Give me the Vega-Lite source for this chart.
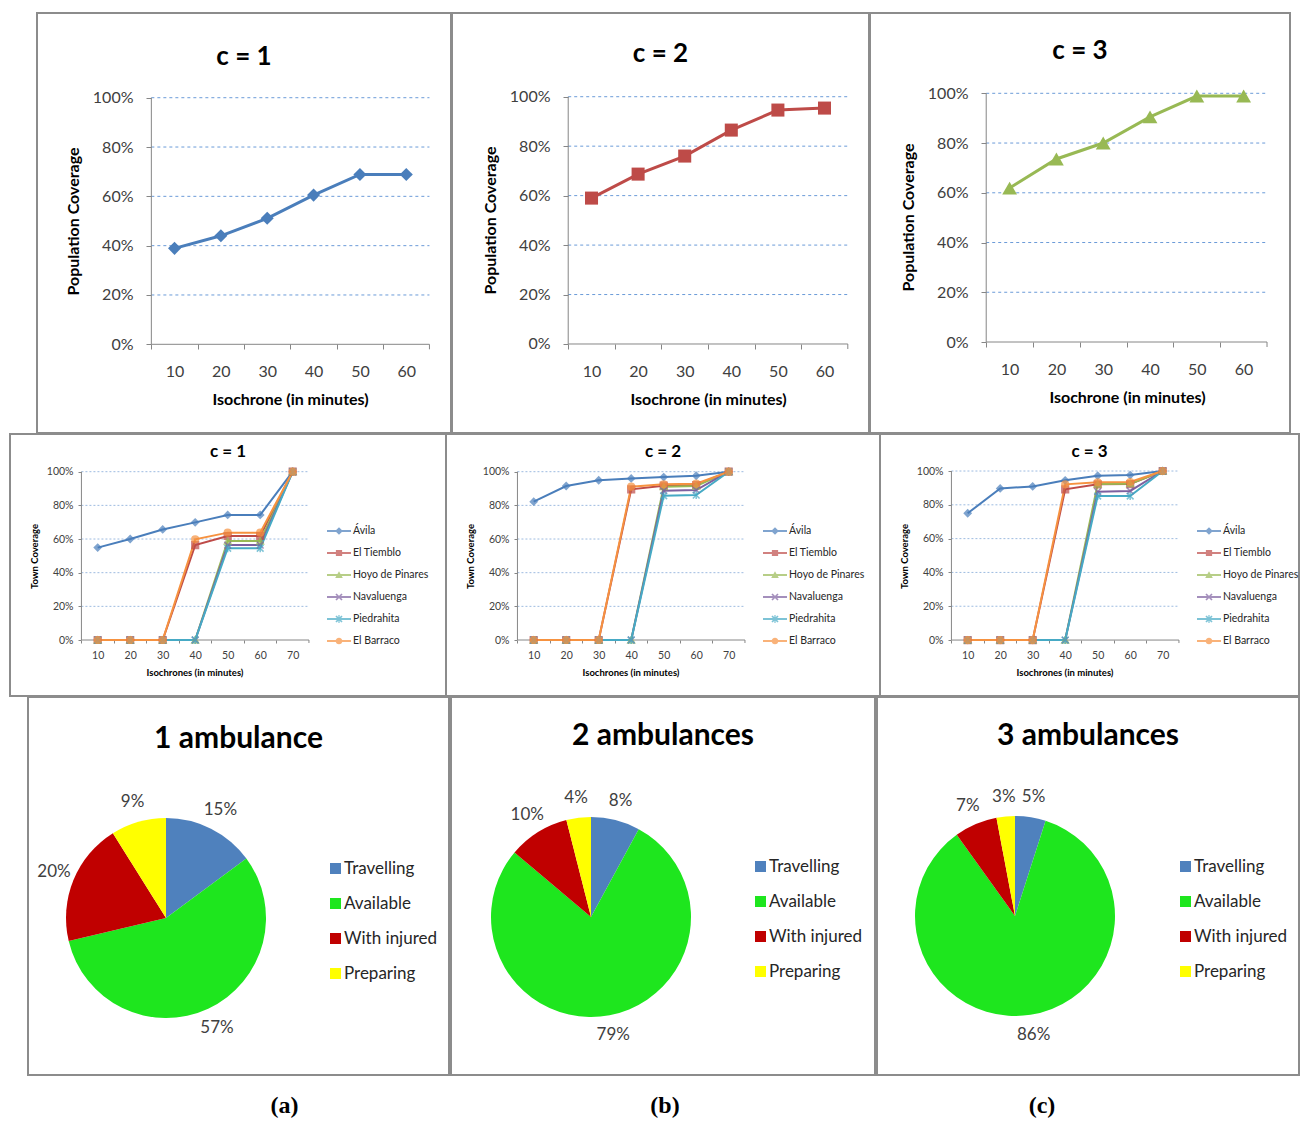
{
  "$schema": "https://vega.github.io/schema/vega-lite/v6.json",
  "padding": {"left": 9, "top": 12, "right": 0, "bottom": 0},
  "background": "white",
  "spacing": -1,
  "config": {
    "font": "Lato",
    "view": {"stroke": "#8c8c8c", "strokeWidth": 2},
    "axis": {"domain": false, "grid": false, "tickColor": "#868686", "labelColor": "#404040", "titleColor": "#000000", "titleFontWeight": "bold", "labelFont": "Lato", "titleFont": "Lato", "labelOverlap": false, "labelFlush": false},
    "legend": {"labelFont": "Lato", "labelColor": "#262626"},
    "title": {"font": "Lato", "color": "#000000", "anchor": "middle"},
    "text": {"font": "Lato"}
  },
  "resolve": {"scale": {"color": "independent", "fill": "independent", "stroke": "independent", "shape": "independent", "theta": "independent", "x": "independent", "y": "independent"}},
  "datasets": {
    "grid": [{"g": 0.2}, {"g": 0.4}, {"g": 0.6}, {"g": 0.8}, {"g": 1.0}],
    "pop": [
      {"c": 1, "iso": 10, "cov": 0.389}, {"c": 1, "iso": 20, "cov": 0.440}, {"c": 1, "iso": 30, "cov": 0.511}, {"c": 1, "iso": 40, "cov": 0.605}, {"c": 1, "iso": 50, "cov": 0.689}, {"c": 1, "iso": 60, "cov": 0.689},
      {"c": 2, "iso": 10, "cov": 0.590}, {"c": 2, "iso": 20, "cov": 0.687}, {"c": 2, "iso": 30, "cov": 0.760}, {"c": 2, "iso": 40, "cov": 0.865}, {"c": 2, "iso": 50, "cov": 0.946}, {"c": 2, "iso": 60, "cov": 0.954},
      {"c": 3, "iso": 10, "cov": 0.619}, {"c": 3, "iso": 20, "cov": 0.736}, {"c": 3, "iso": 30, "cov": 0.800}, {"c": 3, "iso": 40, "cov": 0.905}, {"c": 3, "iso": 50, "cov": 0.989}, {"c": 3, "iso": 60, "cov": 0.989}
    ],
    "town": [
      {"c": 1, "town": "Ávila", "iso": 10, "cov": 0.549}, {"c": 1, "town": "Ávila", "iso": 20, "cov": 0.600}, {"c": 1, "town": "Ávila", "iso": 30, "cov": 0.657}, {"c": 1, "town": "Ávila", "iso": 40, "cov": 0.699}, {"c": 1, "town": "Ávila", "iso": 50, "cov": 0.743}, {"c": 1, "town": "Ávila", "iso": 60, "cov": 0.743}, {"c": 1, "town": "Ávila", "iso": 70, "cov": 1.0},
      {"c": 1, "town": "El Tiemblo", "iso": 10, "cov": 0}, {"c": 1, "town": "El Tiemblo", "iso": 20, "cov": 0}, {"c": 1, "town": "El Tiemblo", "iso": 30, "cov": 0}, {"c": 1, "town": "El Tiemblo", "iso": 40, "cov": 0.564}, {"c": 1, "town": "El Tiemblo", "iso": 50, "cov": 0.618}, {"c": 1, "town": "El Tiemblo", "iso": 60, "cov": 0.618}, {"c": 1, "town": "El Tiemblo", "iso": 70, "cov": 1.0},
      {"c": 1, "town": "Hoyo de Pinares", "iso": 10, "cov": 0}, {"c": 1, "town": "Hoyo de Pinares", "iso": 20, "cov": 0}, {"c": 1, "town": "Hoyo de Pinares", "iso": 30, "cov": 0}, {"c": 1, "town": "Hoyo de Pinares", "iso": 40, "cov": 0}, {"c": 1, "town": "Hoyo de Pinares", "iso": 50, "cov": 0.588}, {"c": 1, "town": "Hoyo de Pinares", "iso": 60, "cov": 0.588}, {"c": 1, "town": "Hoyo de Pinares", "iso": 70, "cov": 1.0},
      {"c": 1, "town": "Navaluenga", "iso": 10, "cov": 0}, {"c": 1, "town": "Navaluenga", "iso": 20, "cov": 0}, {"c": 1, "town": "Navaluenga", "iso": 30, "cov": 0}, {"c": 1, "town": "Navaluenga", "iso": 40, "cov": 0}, {"c": 1, "town": "Navaluenga", "iso": 50, "cov": 0.564}, {"c": 1, "town": "Navaluenga", "iso": 60, "cov": 0.564}, {"c": 1, "town": "Navaluenga", "iso": 70, "cov": 1.0},
      {"c": 1, "town": "Piedrahita", "iso": 10, "cov": 0}, {"c": 1, "town": "Piedrahita", "iso": 20, "cov": 0}, {"c": 1, "town": "Piedrahita", "iso": 30, "cov": 0}, {"c": 1, "town": "Piedrahita", "iso": 40, "cov": 0}, {"c": 1, "town": "Piedrahita", "iso": 50, "cov": 0.545}, {"c": 1, "town": "Piedrahita", "iso": 60, "cov": 0.545}, {"c": 1, "town": "Piedrahita", "iso": 70, "cov": 1.0},
      {"c": 1, "town": "El Barraco", "iso": 10, "cov": 0}, {"c": 1, "town": "El Barraco", "iso": 20, "cov": 0}, {"c": 1, "town": "El Barraco", "iso": 30, "cov": 0}, {"c": 1, "town": "El Barraco", "iso": 40, "cov": 0.598}, {"c": 1, "town": "El Barraco", "iso": 50, "cov": 0.638}, {"c": 1, "town": "El Barraco", "iso": 60, "cov": 0.638}, {"c": 1, "town": "El Barraco", "iso": 70, "cov": 1.0},
      {"c": 2, "town": "Ávila", "iso": 10, "cov": 0.822}, {"c": 2, "town": "Ávila", "iso": 20, "cov": 0.915}, {"c": 2, "town": "Ávila", "iso": 30, "cov": 0.949}, {"c": 2, "town": "Ávila", "iso": 40, "cov": 0.960}, {"c": 2, "town": "Ávila", "iso": 50, "cov": 0.968}, {"c": 2, "town": "Ávila", "iso": 60, "cov": 0.976}, {"c": 2, "town": "Ávila", "iso": 70, "cov": 1.0},
      {"c": 2, "town": "El Tiemblo", "iso": 10, "cov": 0}, {"c": 2, "town": "El Tiemblo", "iso": 20, "cov": 0}, {"c": 2, "town": "El Tiemblo", "iso": 30, "cov": 0}, {"c": 2, "town": "El Tiemblo", "iso": 40, "cov": 0.895}, {"c": 2, "town": "El Tiemblo", "iso": 50, "cov": 0.917}, {"c": 2, "town": "El Tiemblo", "iso": 60, "cov": 0.921}, {"c": 2, "town": "El Tiemblo", "iso": 70, "cov": 1.0},
      {"c": 2, "town": "Hoyo de Pinares", "iso": 10, "cov": 0}, {"c": 2, "town": "Hoyo de Pinares", "iso": 20, "cov": 0}, {"c": 2, "town": "Hoyo de Pinares", "iso": 30, "cov": 0}, {"c": 2, "town": "Hoyo de Pinares", "iso": 40, "cov": 0}, {"c": 2, "town": "Hoyo de Pinares", "iso": 50, "cov": 0.911}, {"c": 2, "town": "Hoyo de Pinares", "iso": 60, "cov": 0.915}, {"c": 2, "town": "Hoyo de Pinares", "iso": 70, "cov": 1.0},
      {"c": 2, "town": "Navaluenga", "iso": 10, "cov": 0}, {"c": 2, "town": "Navaluenga", "iso": 20, "cov": 0}, {"c": 2, "town": "Navaluenga", "iso": 30, "cov": 0}, {"c": 2, "town": "Navaluenga", "iso": 40, "cov": 0}, {"c": 2, "town": "Navaluenga", "iso": 50, "cov": 0.887}, {"c": 2, "town": "Navaluenga", "iso": 60, "cov": 0.891}, {"c": 2, "town": "Navaluenga", "iso": 70, "cov": 1.0},
      {"c": 2, "town": "Piedrahita", "iso": 10, "cov": 0}, {"c": 2, "town": "Piedrahita", "iso": 20, "cov": 0}, {"c": 2, "town": "Piedrahita", "iso": 30, "cov": 0}, {"c": 2, "town": "Piedrahita", "iso": 40, "cov": 0}, {"c": 2, "town": "Piedrahita", "iso": 50, "cov": 0.857}, {"c": 2, "town": "Piedrahita", "iso": 60, "cov": 0.861}, {"c": 2, "town": "Piedrahita", "iso": 70, "cov": 1.0},
      {"c": 2, "town": "El Barraco", "iso": 10, "cov": 0}, {"c": 2, "town": "El Barraco", "iso": 20, "cov": 0}, {"c": 2, "town": "El Barraco", "iso": 30, "cov": 0}, {"c": 2, "town": "El Barraco", "iso": 40, "cov": 0.911}, {"c": 2, "town": "El Barraco", "iso": 50, "cov": 0.925}, {"c": 2, "town": "El Barraco", "iso": 60, "cov": 0.929}, {"c": 2, "town": "El Barraco", "iso": 70, "cov": 1.0},
      {"c": 3, "town": "Ávila", "iso": 10, "cov": 0.750}, {"c": 3, "town": "Ávila", "iso": 20, "cov": 0.897}, {"c": 3, "town": "Ávila", "iso": 30, "cov": 0.909}, {"c": 3, "town": "Ávila", "iso": 40, "cov": 0.945}, {"c": 3, "town": "Ávila", "iso": 50, "cov": 0.972}, {"c": 3, "town": "Ávila", "iso": 60, "cov": 0.976}, {"c": 3, "town": "Ávila", "iso": 70, "cov": 1.0},
      {"c": 3, "town": "El Tiemblo", "iso": 10, "cov": 0}, {"c": 3, "town": "El Tiemblo", "iso": 20, "cov": 0}, {"c": 3, "town": "El Tiemblo", "iso": 30, "cov": 0}, {"c": 3, "town": "El Tiemblo", "iso": 40, "cov": 0.892}, {"c": 3, "town": "El Tiemblo", "iso": 50, "cov": 0.921}, {"c": 3, "town": "El Tiemblo", "iso": 60, "cov": 0.923}, {"c": 3, "town": "El Tiemblo", "iso": 70, "cov": 1.0},
      {"c": 3, "town": "Hoyo de Pinares", "iso": 10, "cov": 0}, {"c": 3, "town": "Hoyo de Pinares", "iso": 20, "cov": 0}, {"c": 3, "town": "Hoyo de Pinares", "iso": 30, "cov": 0}, {"c": 3, "town": "Hoyo de Pinares", "iso": 40, "cov": 0}, {"c": 3, "town": "Hoyo de Pinares", "iso": 50, "cov": 0.923}, {"c": 3, "town": "Hoyo de Pinares", "iso": 60, "cov": 0.925}, {"c": 3, "town": "Hoyo de Pinares", "iso": 70, "cov": 1.0},
      {"c": 3, "town": "Navaluenga", "iso": 10, "cov": 0}, {"c": 3, "town": "Navaluenga", "iso": 20, "cov": 0}, {"c": 3, "town": "Navaluenga", "iso": 30, "cov": 0}, {"c": 3, "town": "Navaluenga", "iso": 40, "cov": 0}, {"c": 3, "town": "Navaluenga", "iso": 50, "cov": 0.878}, {"c": 3, "town": "Navaluenga", "iso": 60, "cov": 0.882}, {"c": 3, "town": "Navaluenga", "iso": 70, "cov": 1.0},
      {"c": 3, "town": "Piedrahita", "iso": 10, "cov": 0}, {"c": 3, "town": "Piedrahita", "iso": 20, "cov": 0}, {"c": 3, "town": "Piedrahita", "iso": 30, "cov": 0}, {"c": 3, "town": "Piedrahita", "iso": 40, "cov": 0}, {"c": 3, "town": "Piedrahita", "iso": 50, "cov": 0.852}, {"c": 3, "town": "Piedrahita", "iso": 60, "cov": 0.852}, {"c": 3, "town": "Piedrahita", "iso": 70, "cov": 1.0},
      {"c": 3, "town": "El Barraco", "iso": 10, "cov": 0}, {"c": 3, "town": "El Barraco", "iso": 20, "cov": 0}, {"c": 3, "town": "El Barraco", "iso": 30, "cov": 0}, {"c": 3, "town": "El Barraco", "iso": 40, "cov": 0.921}, {"c": 3, "town": "El Barraco", "iso": 50, "cov": 0.933}, {"c": 3, "town": "El Barraco", "iso": 60, "cov": 0.935}, {"c": 3, "town": "El Barraco", "iso": 70, "cov": 1.0}
    ],
    "pie": [
      {"amb": 1, "state": "Travelling", "k": 1, "pct": 0.15}, {"amb": 1, "state": "Available", "k": 2, "pct": 0.57}, {"amb": 1, "state": "With injured", "k": 3, "pct": 0.20}, {"amb": 1, "state": "Preparing", "k": 4, "pct": 0.09},
      {"amb": 2, "state": "Travelling", "k": 1, "pct": 0.08}, {"amb": 2, "state": "Available", "k": 2, "pct": 0.79}, {"amb": 2, "state": "With injured", "k": 3, "pct": 0.10}, {"amb": 2, "state": "Preparing", "k": 4, "pct": 0.04},
      {"amb": 3, "state": "Travelling", "k": 1, "pct": 0.05}, {"amb": 3, "state": "Available", "k": 2, "pct": 0.86}, {"amb": 3, "state": "With injured", "k": 3, "pct": 0.07}, {"amb": 3, "state": "Preparing", "k": 4, "pct": 0.03}
    ]
  },
  "vconcat": [
    {
      "spacing": 1,
      "bounds": "flush",
      "resolve": {"scale": {"color": "independent", "fill": "independent", "stroke": "independent", "shape": "independent", "theta": "independent", "x": "independent", "y": "independent"}},
      "hconcat": [
        {"width": 26, "height": 20, "view": {"stroke": null}, "data": {"values": [{}]}, "mark": {"type": "point", "opacity": 0}},
        {
          "width": 414, "height": 420,
          "title": {"text": "c = 1", "fontSize": 26, "fontWeight": "bold", "offset": -57, "frame": "group"},
          "layer": [
            {
              "data": {"name": "grid"},
              "mark": {"type": "rule", "color": "#6b9bd8", "strokeDash": [3, 3], "strokeWidth": 1},
              "encoding": {
                "x": {"datum": 5, "type": "quantitative", "scale": {"domain": [-19.67, 69.65], "nice": false, "zero": false},
                  "axis": {"values": [10, 20, 30, 40, 50, 60], "offset": -89, "title": "Isochrone (in minutes)", "titleX": 253, "tickOffset": -23.2, "labelOffset": 23.2, "tickSize": 5, "labelPadding": 14, "titlePadding": 12, "labelFontSize": 16, "titleFontSize": 16}},
                "x2": {"datum": 65},
                "y": {"field": "g", "type": "quantitative", "scale": {"domain": [-0.3597, 1.3435], "nice": false, "zero": false},
                  "axis": {"values": [0, 0.2, 0.4, 0.6, 0.8, 1], "format": ".0%", "offset": -114, "title": "Population Coverage", "titleY": 208, "tickSize": 5, "labelPadding": 13, "titlePadding": 11, "labelFontSize": 16, "titleFontSize": 16}}
              }
            },
            {"data": {"values": [{}]}, "mark": {"type": "rule", "color": "#868686", "strokeWidth": 1}, "encoding": {"x": {"datum": 5, "type": "quantitative"}, "y": {"datum": 0, "type": "quantitative"}, "y2": {"datum": 1}}},
            {"data": {"values": [{}]}, "mark": {"type": "rule", "color": "#868686", "strokeWidth": 1}, "encoding": {"x": {"datum": 5, "type": "quantitative"}, "x2": {"datum": 65}, "y": {"datum": 0, "type": "quantitative"}}},
            {"data": {"values": [{}]}, "mark": {"type": "rule", "color": "#868686", "strokeWidth": 1}, "encoding": {"x": {"datum": 65, "type": "quantitative"}, "y": {"datum": 0, "type": "quantitative"}, "y2": {"datum": -0.0203}}},
            {
              "data": {"name": "pop"},
              "transform": [{"filter": "datum.c === 1"}],
              "mark": {"type": "line", "color": "#4a7ebb", "strokeWidth": 3, "point": {"shape": "diamond", "size": 170, "filled": true, "color": "#4a7ebb"}},
              "encoding": {"x": {"field": "iso", "type": "quantitative"}, "y": {"field": "cov", "type": "quantitative"}}
            }
          ]
        },
        {
          "width": 417, "height": 420,
          "title": {"text": "c = 2", "fontSize": 26, "fontWeight": "bold", "offset": -54, "frame": "group"},
          "layer": [
            {
              "data": {"name": "grid"},
              "mark": {"type": "rule", "color": "#6b9bd8", "strokeDash": [3, 3], "strokeWidth": 1},
              "encoding": {
                "x": {"datum": 5, "type": "quantitative", "scale": {"domain": [-19.94, 69.55], "nice": false, "zero": false},
                  "axis": {"values": [10, 20, 30, 40, 50, 60], "offset": -89, "title": "Isochrone (in minutes)", "titleX": 256, "tickOffset": -23.3, "labelOffset": 23.3, "tickSize": 5, "labelPadding": 14, "titlePadding": 12, "labelFontSize": 16, "titleFontSize": 16}},
                "x2": {"datum": 65},
                "y": {"field": "g", "type": "quantitative", "scale": {"domain": [-0.3599, 1.3385], "nice": false, "zero": false},
                  "axis": {"values": [0, 0.2, 0.4, 0.6, 0.8, 1], "format": ".0%", "offset": -116, "title": "Population Coverage", "titleY": 207, "tickSize": 5, "labelPadding": 13, "titlePadding": 11, "labelFontSize": 16, "titleFontSize": 16}}
              }
            },
            {"data": {"values": [{}]}, "mark": {"type": "rule", "color": "#868686", "strokeWidth": 1}, "encoding": {"x": {"datum": 5, "type": "quantitative"}, "y": {"datum": 0, "type": "quantitative"}, "y2": {"datum": 1}}},
            {"data": {"values": [{}]}, "mark": {"type": "rule", "color": "#868686", "strokeWidth": 1}, "encoding": {"x": {"datum": 5, "type": "quantitative"}, "x2": {"datum": 65}, "y": {"datum": 0, "type": "quantitative"}}},
            {"data": {"values": [{}]}, "mark": {"type": "rule", "color": "#868686", "strokeWidth": 1}, "encoding": {"x": {"datum": 65, "type": "quantitative"}, "y": {"datum": 0, "type": "quantitative"}, "y2": {"datum": -0.0202}}},
            {
              "data": {"name": "pop"},
              "transform": [{"filter": "datum.c === 2"}],
              "mark": {"type": "line", "color": "#be4b48", "strokeWidth": 3, "point": {"shape": "square", "size": 170, "filled": true, "color": "#be4b48"}},
              "encoding": {"x": {"field": "iso", "type": "quantitative"}, "y": {"field": "cov", "type": "quantitative"}}
            }
          ]
        },
        {
          "width": 420, "height": 420,
          "title": {"text": "c = 3", "fontSize": 26, "fontWeight": "bold", "offset": -51, "frame": "group"},
          "layer": [
            {
              "data": {"name": "grid"},
              "mark": {"type": "rule", "color": "#6b9bd8", "strokeDash": [3, 3], "strokeWidth": 1},
              "encoding": {
                "x": {"datum": 5, "type": "quantitative", "scale": {"domain": [-19.83, 69.91], "nice": false, "zero": false},
                  "axis": {"values": [10, 20, 30, 40, 50, 60], "offset": -91, "title": "Isochrone (in minutes)", "titleX": 257, "tickOffset": -23.4, "labelOffset": 23.4, "tickSize": 5, "labelPadding": 14, "titlePadding": 12, "labelFontSize": 16, "titleFontSize": 16}},
                "x2": {"datum": 65},
                "y": {"field": "g", "type": "quantitative", "scale": {"domain": [-0.3659, 1.3229], "nice": false, "zero": false},
                  "axis": {"values": [0, 0.2, 0.4, 0.6, 0.8, 1], "format": ".0%", "offset": -116, "title": "Population Coverage", "titleY": 204, "tickSize": 5, "labelPadding": 13, "titlePadding": 11, "labelFontSize": 16, "titleFontSize": 16}}
              }
            },
            {"data": {"values": [{}]}, "mark": {"type": "rule", "color": "#868686", "strokeWidth": 1}, "encoding": {"x": {"datum": 5, "type": "quantitative"}, "y": {"datum": 0, "type": "quantitative"}, "y2": {"datum": 1}}},
            {"data": {"values": [{}]}, "mark": {"type": "rule", "color": "#868686", "strokeWidth": 1}, "encoding": {"x": {"datum": 5, "type": "quantitative"}, "x2": {"datum": 65}, "y": {"datum": 0, "type": "quantitative"}}},
            {"data": {"values": [{}]}, "mark": {"type": "rule", "color": "#868686", "strokeWidth": 1}, "encoding": {"x": {"datum": 65, "type": "quantitative"}, "y": {"datum": 0, "type": "quantitative"}, "y2": {"datum": -0.0201}}},
            {
              "data": {"name": "pop"},
              "transform": [{"filter": "datum.c === 3"}],
              "mark": {"type": "line", "color": "#98b954", "strokeWidth": 3, "point": {"shape": "triangle-up", "size": 220, "filled": true, "color": "#98b954"}},
              "encoding": {"x": {"field": "iso", "type": "quantitative"}, "y": {"field": "cov", "type": "quantitative"}}
            }
          ]
        }
      ]
    },
    {
      "spacing": 0,
      "bounds": "flush",
      "resolve": {"scale": {"color": "independent", "fill": "independent", "stroke": "independent", "shape": "independent", "theta": "independent", "x": "independent", "y": "independent"}},
      "hconcat": [
        {
          "width": 436, "height": 262,
          "title": {"text": "c = 1", "fontSize": 17, "fontWeight": "bold", "offset": -27, "frame": "group"},
          "resolve": {"scale": {"color": "independent", "shape": "independent", "stroke": "independent"}},
          "layer": [
            {
              "data": {"name": "grid"},
              "mark": {"type": "rule", "color": "#9dbbe0", "strokeDash": [2, 2], "strokeWidth": 1},
              "encoding": {
                "x": {"datum": 5, "type": "quantitative", "scale": {"domain": [-16.98, 117.17], "nice": false, "zero": false},
                  "axis": {"values": [10, 20, 30, 40, 50, 60, 70], "offset": -56, "title": "Isochrones (in minutes)", "titleX": 184.5, "tickOffset": -16.25, "labelOffset": 16.25, "tickSize": 3, "labelPadding": 7, "titlePadding": 7, "labelFontSize": 10.5, "titleFontSize": 9.5}},
                "x2": {"datum": 75},
                "y": {"field": "g", "type": "quantitative", "scale": {"domain": [-0.3327, 1.224], "nice": false, "zero": false},
                  "axis": {"values": [0, 0.2, 0.4, 0.6, 0.8, 1], "format": ".0%", "offset": -71, "title": "Town Coverage", "titleY": 122, "tickSize": 3, "labelPadding": 5, "titlePadding": 7, "labelFontSize": 10.5, "titleFontSize": 9.5}}
              }
            },
            {"data": {"values": [{}]}, "mark": {"type": "rule", "color": "#868686", "strokeWidth": 1}, "encoding": {"x": {"datum": 5, "type": "quantitative"}, "y": {"datum": 0, "type": "quantitative"}, "y2": {"datum": 1}}},
            {"data": {"values": [{}]}, "mark": {"type": "rule", "color": "#868686", "strokeWidth": 1}, "encoding": {"x": {"datum": 5, "type": "quantitative"}, "x2": {"datum": 75}, "y": {"datum": 0, "type": "quantitative"}}},
            {"data": {"values": [{}]}, "mark": {"type": "rule", "color": "#868686", "strokeWidth": 1}, "encoding": {"x": {"datum": 75, "type": "quantitative"}, "y": {"datum": 0, "type": "quantitative"}, "y2": {"datum": -0.0178}}},
            {
              "data": {"name": "town"},
              "transform": [{"filter": "datum.c === 1"}],
              "mark": {"type": "line", "strokeWidth": 2},
              "encoding": {
                "x": {"field": "iso", "type": "quantitative"},
                "y": {"field": "cov", "type": "quantitative"},
                "color": {"field": "town", "type": "nominal", "sort": null, "legend": null,
                  "scale": {"domain": ["Ávila", "El Tiemblo", "Hoyo de Pinares", "Navaluenga", "Piedrahita", "El Barraco"], "range": ["#4a7ebb", "#be4b48", "#98b954", "#7d60a0", "#46aac5", "#f69240"]}}
              }
            },
            {
              "data": {"name": "town"},
              "transform": [{"filter": "datum.c === 1"}],
              "mark": {"type": "point", "filled": true, "size": 45, "strokeWidth": 1.5},
              "encoding": {
                "x": {"field": "iso", "type": "quantitative"},
                "y": {"field": "cov", "type": "quantitative"},
                "color": {"field": "town", "type": "nominal", "legend": null, "scale": {"domain": ["Ávila", "El Tiemblo", "Hoyo de Pinares", "Navaluenga", "Piedrahita", "El Barraco"], "range": ["#4a7ebb", "#be4b48", "#98b954", "#7d60a0", "#46aac5", "#f69240"]}},
                "stroke": {"field": "town", "type": "nominal", "legend": null, "scale": {"domain": ["Ávila", "El Tiemblo", "Hoyo de Pinares", "Navaluenga", "Piedrahita", "El Barraco"], "range": ["#4a7ebb", "#be4b48", "#98b954", "#7d60a0", "#46aac5", "#f69240"]}},
                "shape": {"field": "town", "type": "nominal", "legend": null, "scale": {"domain": ["Ávila", "El Tiemblo", "Hoyo de Pinares", "Navaluenga", "Piedrahita", "El Barraco"], "range": ["diamond", "square", "triangle-up", "M-1,-1L1,1M-1,1L1,-1", "M-1,-1L1,1M-1,1L1,-1M0,-1.2L0,1.2", "circle"]}}
              }
            },
            {
              "data": {"name": "town"},
              "transform": [{"filter": "datum.c === 0"}],
              "mark": {"type": "point", "filled": true},
              "encoding": {
                "x": {"field": "iso", "type": "quantitative"},
                "y": {"field": "cov", "type": "quantitative"},
                "color": {"field": "town", "type": "nominal", "scale": {"domain": ["Ávila", "El Tiemblo", "Hoyo de Pinares", "Navaluenga", "Piedrahita", "El Barraco"], "range": ["#4a7ebb", "#be4b48", "#98b954", "#7d60a0", "#46aac5", "#f69240"]},
                  "legend": {"orient": "none", "legendX": 317, "legendY": 85, "title": null, "padding": 0, "symbolSize": 576, "symbolStrokeWidth": 0, "labelFontSize": 10.5, "labelOffset": 2, "rowPadding": 4}},
                "shape": {"field": "town", "type": "nominal", "scale": {"domain": ["Ávila", "El Tiemblo", "Hoyo de Pinares", "Navaluenga", "Piedrahita", "El Barraco"], "range": [
                    "M-1,-0.09L1,-0.09L1,0.09L-1,0.09ZM0,-0.32L0.32,0L0,0.32L-0.32,0Z",
                    "M-1,-0.09L1,-0.09L1,0.09L-1,0.09ZM-0.26,-0.26L0.26,-0.26L0.26,0.26L-0.26,0.26Z",
                    "M-1,-0.09L1,-0.09L1,0.09L-1,0.09ZM0,-0.32L0.32,0.26L-0.32,0.26Z",
                    "M-1,-0.09L1,-0.09L1,0.09L-1,0.09ZM-0.2,-0.3L0.3,0.2L0.2,0.3L-0.3,-0.2ZM-0.2,0.3L-0.3,0.2L0.2,-0.3L0.3,-0.2Z",
                    "M-1,-0.09L1,-0.09L1,0.09L-1,0.09ZM-0.2,-0.3L0.3,0.2L0.2,0.3L-0.3,-0.2ZM-0.2,0.3L-0.3,0.2L0.2,-0.3L0.3,-0.2ZM-0.05,-0.34L0.05,-0.34L0.05,0.34L-0.05,0.34Z",
                    "M-1,-0.09L1,-0.09L1,0.09L-1,0.09ZM0.28,0A0.28,0.28,0,1,1,-0.28,0A0.28,0.28,0,1,1,0.28,0Z"]},
                  "legend": {"orient": "none", "legendX": 317, "legendY": 85, "title": null, "padding": 0, "symbolSize": 576, "symbolStrokeWidth": 0, "labelFontSize": 10.5, "labelOffset": 2, "rowPadding": 4}}
              }
            }
          ]
        },
        {
          "width": 434, "height": 262,
          "title": {"text": "c = 2", "fontSize": 17, "fontWeight": "bold", "offset": -27, "frame": "group"},
          "resolve": {"scale": {"color": "independent", "shape": "independent", "stroke": "independent"}},
          "layer": [
            {
              "data": {"name": "grid"},
              "mark": {"type": "rule", "color": "#9dbbe0", "strokeDash": [2, 2], "strokeWidth": 1},
              "encoding": {
                "x": {"datum": 5, "type": "quantitative", "scale": {"domain": [-16.98, 116.55], "nice": false, "zero": false},
                  "axis": {"values": [10, 20, 30, 40, 50, 60, 70], "offset": -56, "title": "Isochrones (in minutes)", "titleX": 184.5, "tickOffset": -16.25, "labelOffset": 16.25, "tickSize": 3, "labelPadding": 7, "titlePadding": 7, "labelFontSize": 10.5, "titleFontSize": 9.5}},
                "x2": {"datum": 75},
                "y": {"field": "g", "type": "quantitative", "scale": {"domain": [-0.3327, 1.224], "nice": false, "zero": false},
                  "axis": {"values": [0, 0.2, 0.4, 0.6, 0.8, 1], "format": ".0%", "offset": -71, "title": "Town Coverage", "titleY": 122, "tickSize": 3, "labelPadding": 5, "titlePadding": 7, "labelFontSize": 10.5, "titleFontSize": 9.5}}
              }
            },
            {"data": {"values": [{}]}, "mark": {"type": "rule", "color": "#868686", "strokeWidth": 1}, "encoding": {"x": {"datum": 5, "type": "quantitative"}, "y": {"datum": 0, "type": "quantitative"}, "y2": {"datum": 1}}},
            {"data": {"values": [{}]}, "mark": {"type": "rule", "color": "#868686", "strokeWidth": 1}, "encoding": {"x": {"datum": 5, "type": "quantitative"}, "x2": {"datum": 75}, "y": {"datum": 0, "type": "quantitative"}}},
            {"data": {"values": [{}]}, "mark": {"type": "rule", "color": "#868686", "strokeWidth": 1}, "encoding": {"x": {"datum": 75, "type": "quantitative"}, "y": {"datum": 0, "type": "quantitative"}, "y2": {"datum": -0.0178}}},
            {
              "data": {"name": "town"},
              "transform": [{"filter": "datum.c === 2"}],
              "mark": {"type": "line", "strokeWidth": 2},
              "encoding": {
                "x": {"field": "iso", "type": "quantitative"},
                "y": {"field": "cov", "type": "quantitative"},
                "color": {"field": "town", "type": "nominal", "sort": null, "legend": null,
                  "scale": {"domain": ["Ávila", "El Tiemblo", "Hoyo de Pinares", "Navaluenga", "Piedrahita", "El Barraco"], "range": ["#4a7ebb", "#be4b48", "#98b954", "#7d60a0", "#46aac5", "#f69240"]}}
              }
            },
            {
              "data": {"name": "town"},
              "transform": [{"filter": "datum.c === 2"}],
              "mark": {"type": "point", "filled": true, "size": 45, "strokeWidth": 1.5},
              "encoding": {
                "x": {"field": "iso", "type": "quantitative"},
                "y": {"field": "cov", "type": "quantitative"},
                "color": {"field": "town", "type": "nominal", "legend": null, "scale": {"domain": ["Ávila", "El Tiemblo", "Hoyo de Pinares", "Navaluenga", "Piedrahita", "El Barraco"], "range": ["#4a7ebb", "#be4b48", "#98b954", "#7d60a0", "#46aac5", "#f69240"]}},
                "stroke": {"field": "town", "type": "nominal", "legend": null, "scale": {"domain": ["Ávila", "El Tiemblo", "Hoyo de Pinares", "Navaluenga", "Piedrahita", "El Barraco"], "range": ["#4a7ebb", "#be4b48", "#98b954", "#7d60a0", "#46aac5", "#f69240"]}},
                "shape": {"field": "town", "type": "nominal", "legend": null, "scale": {"domain": ["Ávila", "El Tiemblo", "Hoyo de Pinares", "Navaluenga", "Piedrahita", "El Barraco"], "range": ["diamond", "square", "triangle-up", "M-1,-1L1,1M-1,1L1,-1", "M-1,-1L1,1M-1,1L1,-1M0,-1.2L0,1.2", "circle"]}}
              }
            },
            {
              "data": {"name": "town"},
              "transform": [{"filter": "datum.c === 0"}],
              "mark": {"type": "point", "filled": true},
              "encoding": {
                "x": {"field": "iso", "type": "quantitative"},
                "y": {"field": "cov", "type": "quantitative"},
                "color": {"field": "town", "type": "nominal", "scale": {"domain": ["Ávila", "El Tiemblo", "Hoyo de Pinares", "Navaluenga", "Piedrahita", "El Barraco"], "range": ["#4a7ebb", "#be4b48", "#98b954", "#7d60a0", "#46aac5", "#f69240"]},
                  "legend": {"orient": "none", "legendX": 317, "legendY": 85, "title": null, "padding": 0, "symbolSize": 576, "symbolStrokeWidth": 0, "labelFontSize": 10.5, "labelOffset": 2, "rowPadding": 4}},
                "shape": {"field": "town", "type": "nominal", "scale": {"domain": ["Ávila", "El Tiemblo", "Hoyo de Pinares", "Navaluenga", "Piedrahita", "El Barraco"], "range": [
                    "M-1,-0.09L1,-0.09L1,0.09L-1,0.09ZM0,-0.32L0.32,0L0,0.32L-0.32,0Z",
                    "M-1,-0.09L1,-0.09L1,0.09L-1,0.09ZM-0.26,-0.26L0.26,-0.26L0.26,0.26L-0.26,0.26Z",
                    "M-1,-0.09L1,-0.09L1,0.09L-1,0.09ZM0,-0.32L0.32,0.26L-0.32,0.26Z",
                    "M-1,-0.09L1,-0.09L1,0.09L-1,0.09ZM-0.2,-0.3L0.3,0.2L0.2,0.3L-0.3,-0.2ZM-0.2,0.3L-0.3,0.2L0.2,-0.3L0.3,-0.2Z",
                    "M-1,-0.09L1,-0.09L1,0.09L-1,0.09ZM-0.2,-0.3L0.3,0.2L0.2,0.3L-0.3,-0.2ZM-0.2,0.3L-0.3,0.2L0.2,-0.3L0.3,-0.2ZM-0.05,-0.34L0.05,-0.34L0.05,0.34L-0.05,0.34Z",
                    "M-1,-0.09L1,-0.09L1,0.09L-1,0.09ZM0.28,0A0.28,0.28,0,1,1,-0.28,0A0.28,0.28,0,1,1,0.28,0Z"]},
                  "legend": {"orient": "none", "legendX": 317, "legendY": 85, "title": null, "padding": 0, "symbolSize": 576, "symbolStrokeWidth": 0, "labelFontSize": 10.5, "labelOffset": 2, "rowPadding": 4}}
              }
            }
          ]
        },
        {
          "width": 419, "height": 262,
          "title": {"text": "c = 3", "fontSize": 17, "fontWeight": "bold", "offset": -27, "frame": "group"},
          "resolve": {"scale": {"color": "independent", "shape": "independent", "stroke": "independent"}},
          "layer": [
            {
              "data": {"name": "grid"},
              "mark": {"type": "rule", "color": "#9dbbe0", "strokeDash": [2, 2], "strokeWidth": 1},
              "encoding": {
                "x": {"datum": 5, "type": "quantitative", "scale": {"domain": [-16.98, 111.94], "nice": false, "zero": false},
                  "axis": {"values": [10, 20, 30, 40, 50, 60, 70], "offset": -56, "title": "Isochrones (in minutes)", "titleX": 184.5, "tickOffset": -16.25, "labelOffset": 16.25, "tickSize": 3, "labelPadding": 7, "titlePadding": 7, "labelFontSize": 10.5, "titleFontSize": 9.5}},
                "x2": {"datum": 75},
                "y": {"field": "g", "type": "quantitative", "scale": {"domain": [-0.331, 1.219], "nice": false, "zero": false},
                  "axis": {"values": [0, 0.2, 0.4, 0.6, 0.8, 1], "format": ".0%", "offset": -71, "title": "Town Coverage", "titleY": 122, "tickSize": 3, "labelPadding": 5, "titlePadding": 7, "labelFontSize": 10.5, "titleFontSize": 9.5}}
              }
            },
            {"data": {"values": [{}]}, "mark": {"type": "rule", "color": "#868686", "strokeWidth": 1}, "encoding": {"x": {"datum": 5, "type": "quantitative"}, "y": {"datum": 0, "type": "quantitative"}, "y2": {"datum": 1}}},
            {"data": {"values": [{}]}, "mark": {"type": "rule", "color": "#868686", "strokeWidth": 1}, "encoding": {"x": {"datum": 5, "type": "quantitative"}, "x2": {"datum": 75}, "y": {"datum": 0, "type": "quantitative"}}},
            {"data": {"values": [{}]}, "mark": {"type": "rule", "color": "#868686", "strokeWidth": 1}, "encoding": {"x": {"datum": 75, "type": "quantitative"}, "y": {"datum": 0, "type": "quantitative"}, "y2": {"datum": -0.0178}}},
            {
              "data": {"name": "town"},
              "transform": [{"filter": "datum.c === 3"}],
              "mark": {"type": "line", "strokeWidth": 2},
              "encoding": {
                "x": {"field": "iso", "type": "quantitative"},
                "y": {"field": "cov", "type": "quantitative"},
                "color": {"field": "town", "type": "nominal", "sort": null, "legend": null,
                  "scale": {"domain": ["Ávila", "El Tiemblo", "Hoyo de Pinares", "Navaluenga", "Piedrahita", "El Barraco"], "range": ["#4a7ebb", "#be4b48", "#98b954", "#7d60a0", "#46aac5", "#f69240"]}}
              }
            },
            {
              "data": {"name": "town"},
              "transform": [{"filter": "datum.c === 3"}],
              "mark": {"type": "point", "filled": true, "size": 45, "strokeWidth": 1.5},
              "encoding": {
                "x": {"field": "iso", "type": "quantitative"},
                "y": {"field": "cov", "type": "quantitative"},
                "color": {"field": "town", "type": "nominal", "legend": null, "scale": {"domain": ["Ávila", "El Tiemblo", "Hoyo de Pinares", "Navaluenga", "Piedrahita", "El Barraco"], "range": ["#4a7ebb", "#be4b48", "#98b954", "#7d60a0", "#46aac5", "#f69240"]}},
                "stroke": {"field": "town", "type": "nominal", "legend": null, "scale": {"domain": ["Ávila", "El Tiemblo", "Hoyo de Pinares", "Navaluenga", "Piedrahita", "El Barraco"], "range": ["#4a7ebb", "#be4b48", "#98b954", "#7d60a0", "#46aac5", "#f69240"]}},
                "shape": {"field": "town", "type": "nominal", "legend": null, "scale": {"domain": ["Ávila", "El Tiemblo", "Hoyo de Pinares", "Navaluenga", "Piedrahita", "El Barraco"], "range": ["diamond", "square", "triangle-up", "M-1,-1L1,1M-1,1L1,-1", "M-1,-1L1,1M-1,1L1,-1M0,-1.2L0,1.2", "circle"]}}
              }
            },
            {
              "data": {"name": "town"},
              "transform": [{"filter": "datum.c === 0"}],
              "mark": {"type": "point", "filled": true},
              "encoding": {
                "x": {"field": "iso", "type": "quantitative"},
                "y": {"field": "cov", "type": "quantitative"},
                "color": {"field": "town", "type": "nominal", "scale": {"domain": ["Ávila", "El Tiemblo", "Hoyo de Pinares", "Navaluenga", "Piedrahita", "El Barraco"], "range": ["#4a7ebb", "#be4b48", "#98b954", "#7d60a0", "#46aac5", "#f69240"]},
                  "legend": {"orient": "none", "legendX": 317, "legendY": 85, "title": null, "padding": 0, "symbolSize": 576, "symbolStrokeWidth": 0, "labelFontSize": 10.5, "labelOffset": 2, "rowPadding": 4}},
                "shape": {"field": "town", "type": "nominal", "scale": {"domain": ["Ávila", "El Tiemblo", "Hoyo de Pinares", "Navaluenga", "Piedrahita", "El Barraco"], "range": [
                    "M-1,-0.09L1,-0.09L1,0.09L-1,0.09ZM0,-0.32L0.32,0L0,0.32L-0.32,0Z",
                    "M-1,-0.09L1,-0.09L1,0.09L-1,0.09ZM-0.26,-0.26L0.26,-0.26L0.26,0.26L-0.26,0.26Z",
                    "M-1,-0.09L1,-0.09L1,0.09L-1,0.09ZM0,-0.32L0.32,0.26L-0.32,0.26Z",
                    "M-1,-0.09L1,-0.09L1,0.09L-1,0.09ZM-0.2,-0.3L0.3,0.2L0.2,0.3L-0.3,-0.2ZM-0.2,0.3L-0.3,0.2L0.2,-0.3L0.3,-0.2Z",
                    "M-1,-0.09L1,-0.09L1,0.09L-1,0.09ZM-0.2,-0.3L0.3,0.2L0.2,0.3L-0.3,-0.2ZM-0.2,0.3L-0.3,0.2L0.2,-0.3L0.3,-0.2ZM-0.05,-0.34L0.05,-0.34L0.05,0.34L-0.05,0.34Z",
                    "M-1,-0.09L1,-0.09L1,0.09L-1,0.09ZM0.28,0A0.28,0.28,0,1,1,-0.28,0A0.28,0.28,0,1,1,0.28,0Z"]},
                  "legend": {"orient": "none", "legendX": 317, "legendY": 85, "title": null, "padding": 0, "symbolSize": 576, "symbolStrokeWidth": 0, "labelFontSize": 10.5, "labelOffset": 2, "rowPadding": 4}}
              }
            }
          ]
        }
      ]
    },
    {
      "spacing": 0,
      "resolve": {"scale": {"color": "independent", "fill": "independent", "stroke": "independent", "shape": "independent", "theta": "independent", "x": "independent", "y": "independent"}},
      "hconcat": [
        {"width": 17, "height": 20, "view": {"stroke": null}, "data": {"values": [{}]}, "mark": {"type": "point", "opacity": 0}},
        {
          "title": {"text": "(a)", "orient": "bottom", "font": "Liberation Serif", "fontSize": 24, "fontWeight": "bold", "dx": 46, "offset": 18},
          "resolve": {"scale": {"color": "independent", "theta": "independent", "x": "independent", "y": "independent"}},
          "vconcat": [
            {
              "width": 421, "height": 378,
              "title": {"text": "1 ambulance", "fontSize": 30, "fontWeight": "bold", "offset": -57, "frame": "group"},
              "data": {"name": "pie"},
              "transform": [{"filter": "datum.amb === 1"}],
              "encoding": {
                "theta": {"field": "pct", "type": "quantitative", "stack": true},
                "order": {"field": "k", "type": "quantitative"},
                "x": {"datum": 0, "type": "quantitative", "scale": {"domain": [-1.38, 2.83], "nice": false, "zero": false}, "axis": null},
                "y": {"datum": 0, "type": "quantitative", "scale": {"domain": [-1.57, 2.21], "nice": false, "zero": false}, "axis": null}
              },
              "layer": [
                {"mark": {"type": "arc", "outerRadius": 100},
                 "encoding": {"color": {"field": "state", "type": "nominal", "sort": null, "scale": {"domain": ["Travelling", "Available", "With injured", "Preparing"], "range": ["#4f81bd", "#1ee61e", "#c00000", "#ffff00"]},
                   "legend": {"orient": "none", "legendX": 299, "legendY": 163, "title": null, "padding": 0, "symbolType": "square", "symbolSize": 121, "symbolStrokeWidth": 0, "labelFontSize": 17, "labelOffset": 0, "rowPadding": 17}}}},
                {"mark": {"type": "text", "radius": 121, "fontSize": 17, "color": "#404040"},
                 "encoding": {"text": {"field": "pct", "type": "quantitative", "format": ".0%"}}}
              ]
            }
          ]
        },
        {
          "title": {"text": "(b)", "orient": "bottom", "font": "Liberation Serif", "fontSize": 24, "fontWeight": "bold", "dx": 2, "offset": 18},
          "resolve": {"scale": {"color": "independent", "theta": "independent", "x": "independent", "y": "independent"}},
          "vconcat": [
            {
              "width": 424, "height": 378,
              "title": {"text": "2 ambulances", "fontSize": 30, "fontWeight": "bold", "offset": -54, "frame": "group"},
              "data": {"name": "pie"},
              "transform": [{"filter": "datum.amb === 2"}],
              "encoding": {
                "theta": {"field": "pct", "type": "quantitative", "stack": true},
                "order": {"field": "k", "type": "quantitative"},
                "x": {"datum": 0, "type": "quantitative", "scale": {"domain": [-1.40, 2.84], "nice": false, "zero": false}, "axis": null},
                "y": {"datum": 0, "type": "quantitative", "scale": {"domain": [-1.58, 2.20], "nice": false, "zero": false}, "axis": null}
              },
              "layer": [
                {"mark": {"type": "arc", "outerRadius": 100},
                 "encoding": {"color": {"field": "state", "type": "nominal", "sort": null, "scale": {"domain": ["Travelling", "Available", "With injured", "Preparing"], "range": ["#4f81bd", "#1ee61e", "#c00000", "#ffff00"]},
                   "legend": {"orient": "none", "legendX": 301, "legendY": 161, "title": null, "padding": 0, "symbolType": "square", "symbolSize": 121, "symbolStrokeWidth": 0, "labelFontSize": 17, "labelOffset": 0, "rowPadding": 17}}}},
                {"mark": {"type": "text", "radius": 120, "fontSize": 17, "color": "#404040"},
                 "encoding": {"text": {"field": "pct", "type": "quantitative", "format": ".0%"}}}
              ]
            }
          ]
        },
        {
          "title": {"text": "(c)", "orient": "bottom", "font": "Liberation Serif", "fontSize": 24, "fontWeight": "bold", "dx": -46, "offset": 18},
          "resolve": {"scale": {"color": "independent", "theta": "independent", "x": "independent", "y": "independent"}},
          "vconcat": [
            {
              "width": 422, "height": 378,
              "title": {"text": "3 ambulances", "fontSize": 30, "fontWeight": "bold", "offset": -54, "frame": "group"},
              "data": {"name": "pie"},
              "transform": [{"filter": "datum.amb === 3"}],
              "encoding": {
                "theta": {"field": "pct", "type": "quantitative", "stack": true},
                "order": {"field": "k", "type": "quantitative"},
                "x": {"datum": 0, "type": "quantitative", "scale": {"domain": [-1.38, 2.84], "nice": false, "zero": false}, "axis": null},
                "y": {"datum": 0, "type": "quantitative", "scale": {"domain": [-1.59, 2.19], "nice": false, "zero": false}, "axis": null}
              },
              "layer": [
                {"mark": {"type": "arc", "outerRadius": 100},
                 "encoding": {"color": {"field": "state", "type": "nominal", "sort": null, "scale": {"domain": ["Travelling", "Available", "With injured", "Preparing"], "range": ["#4f81bd", "#1ee61e", "#c00000", "#ffff00"]},
                   "legend": {"orient": "none", "legendX": 300, "legendY": 161, "title": null, "padding": 0, "symbolType": "square", "symbolSize": 121, "symbolStrokeWidth": 0, "labelFontSize": 17, "labelOffset": 0, "rowPadding": 17}}}},
                {"mark": {"type": "text", "radius": 120, "fontSize": 17, "color": "#404040"},
                 "encoding": {"text": {"field": "pct", "type": "quantitative", "format": ".0%"}}}
              ]
            }
          ]
        }
      ]
    }
  ]
}
